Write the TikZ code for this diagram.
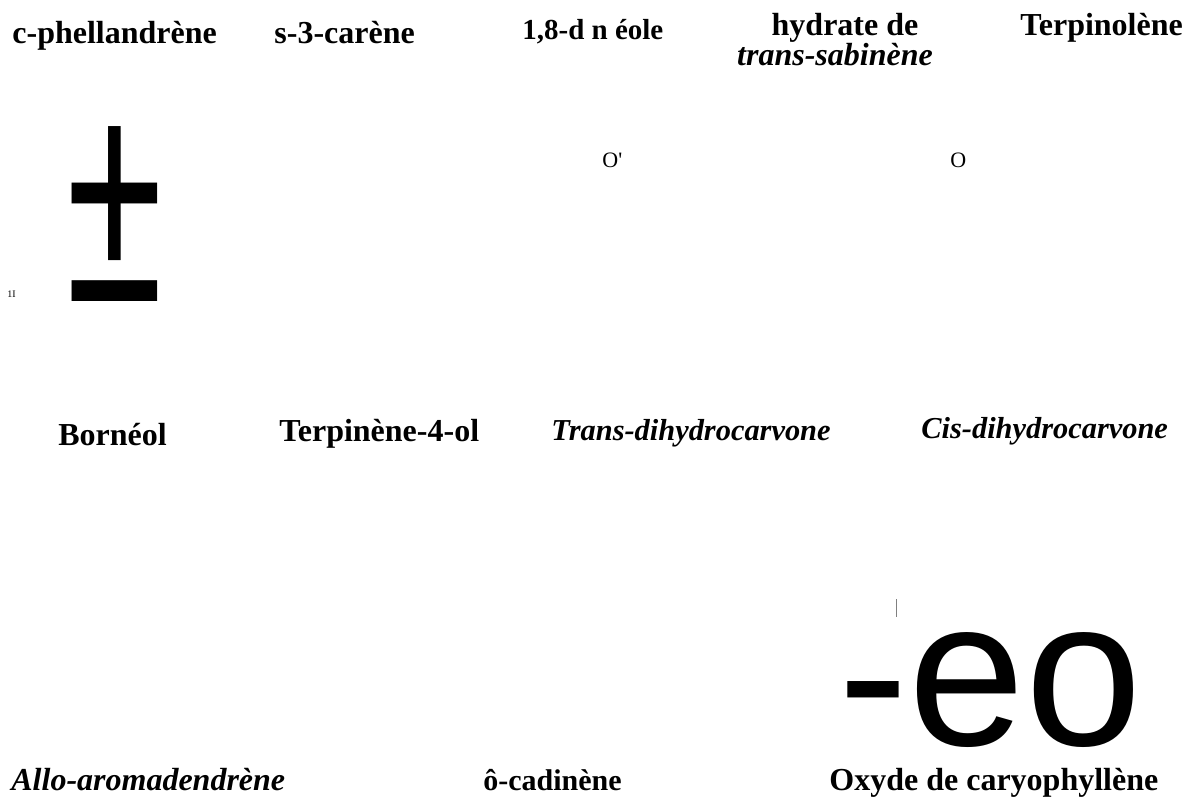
\documentclass[tikz,border=0pt]{standalone}
\usepackage{fontspec}
\setmainfont{Liberation Serif}
\newfontfamily\atomfont{Liberation Serif}
\newfontfamily\arialfont{Liberation Sans}
\usetikzlibrary{positioning}

\begin{document}
\begin{tikzpicture}[
    x=0.5pt,y=-0.5pt,
    molname/.style={anchor=base west,inner sep=0pt,font=\fontsize{16}{18}\selectfont\bfseries},
    molit/.style={molname,font=\fontsize{16}{18}\selectfont\bfseries\itshape},
    atom/.style={anchor=base west,inner sep=0pt,font=\atomfont\fontsize{11}{13}\selectfont},
    node distance=2mm
  ]
    \useasboundingbox (0,0) rectangle (1184,798);
    % first row
    \node[molname] (phel) at (12,43) {c-phellandrène};
    \node[molname] (carene) at (274,43) {s-3-carène};
    \node[molname,font=\fontsize{14.5}{18}\selectfont\bfseries] (cineole) at (522,39) {1,8-d n éole};
    \node[molname,anchor=base] (hydr) at (845,35) {hydrate de};
    \node[molit,anchor=base] (sabin) at (835,65) {trans-sabinène};
    \node[molname] (terpo) at (1020,35) {Terpinolène};
    \node[anchor=base west,inner sep=0pt,text depth=0pt,font=\arialfont\fontsize{88}{88}\selectfont] (pm) at (66,301) {\scalebox{1}[1.67]{±}};
    \node[atom,font=\atomfont\fontsize{5}{6}\selectfont] (eleven) at (7,297) {1I};
    \node[atom] (oxa) at (602,167) {O'};
    \node[atom] (oxb) at (950,167) {O};
    % second row
    \node[molname] (born) at (58,445) {Bornéol};
    \node[molname] (terp4) at (279,441) {Terpinène-4-ol};
    \node[molit,font=\fontsize{15.2}{18}\selectfont\bfseries\itshape] (transdh) at (551,440) {Trans-dihydrocarvone};
    \node[molit,font=\fontsize{15.2}{18}\selectfont\bfseries\itshape] (cisdh) at (921,438) {Cis-dihydrocarvone};
    % third row
    \node[molit] (allo) at (11,790) {Allo-aromadendrène};
    \node[molname,font=\fontsize{15}{18}\selectfont\bfseries] (cadin) at (483,790) {ô-cadinène};
    \node[molname] (caryo) at (829,790) {Oxyde de caryophyllène};
    \node[anchor=base west,inner sep=0pt,text depth=0pt,font=\arialfont\fontsize{105}{105}\selectfont] (eo) at (838,745) {-eo};
    \draw[gray,line width=0.5pt] (896,599) -- (896,617);
\end{tikzpicture}
\end{document}
